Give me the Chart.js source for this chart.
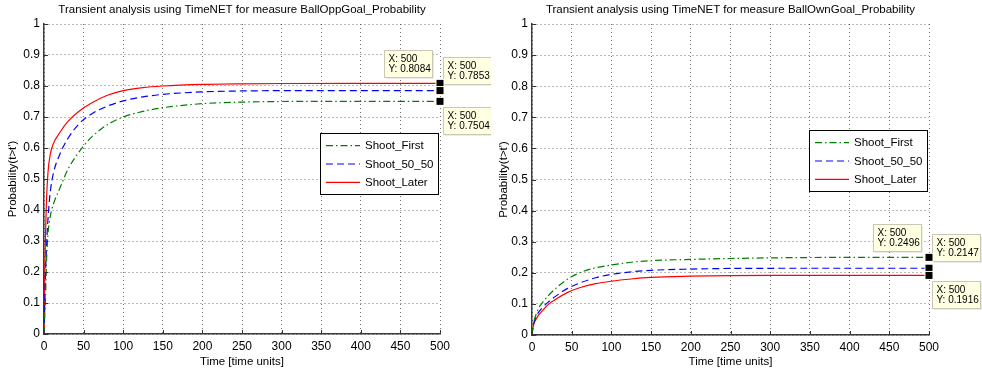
<!DOCTYPE html>
<html>
<head>
<meta charset="utf-8">
<script src="https://cdn.jsdelivr.net/npm/chart.js@4/dist/chart.umd.min.js"></script>
<style>
  html, body { margin: 0; padding: 0; background: #ffffff; }
  #wrap { display: flex; width: 982px; height: 372px; }
  .cell { position: relative; width: 491px; height: 372px; }
  canvas { display: block; }
</style>
</head>
<body>
<div id="wrap">
  <div class="cell"><canvas id="oppGoal" width="491" height="372"></canvas></div>
  <div class="cell"><canvas id="ownGoal" width="491" height="372"></canvas></div>
</div>
<script>
// Sample instants of the transient analysis (time units)
const timeUnits = [0, 1, 2, 3, 5, 8, 12, 20, 30, 45, 60, 80, 100, 125, 150, 200, 250, 300, 400, 500];

const seriesNames = ['Shoot_First', 'Shoot_50_50', 'Shoot_Later'];

// Measure BallOppGoal_Probability
const oppShootFirst = [0, 0.06, 0.12, 0.22, 0.32, 0.38, 0.42, 0.47, 0.53, 0.59, 0.635, 0.675, 0.70, 0.718, 0.73, 0.743, 0.748, 0.75, 0.7504, 0.7504];
const oppShoot5050  = [0, 0.10, 0.20, 0.27, 0.37, 0.46, 0.52, 0.58, 0.63, 0.68, 0.71, 0.735, 0.752, 0.765, 0.773, 0.781, 0.784, 0.785, 0.7853, 0.7853];
const oppShootLater = [0, 0.20, 0.33, 0.42, 0.52, 0.58, 0.615, 0.65, 0.685, 0.72, 0.745, 0.77, 0.785, 0.795, 0.80, 0.805, 0.807, 0.808, 0.8084, 0.8084];

// Measure BallOwnGoal_Probability
const ownShootFirst = [0, 0.025, 0.04, 0.05, 0.065, 0.085, 0.10, 0.125, 0.15, 0.18, 0.20, 0.216, 0.225, 0.234, 0.239, 0.243, 0.246, 0.248, 0.2496, 0.2496];
const ownShoot5050  = [0, 0.02, 0.035, 0.045, 0.057, 0.072, 0.085, 0.105, 0.125, 0.15, 0.167, 0.184, 0.195, 0.203, 0.208, 0.212, 0.214, 0.2145, 0.2147, 0.2147];
const ownShootLater = [0, 0.02, 0.032, 0.04, 0.05, 0.063, 0.075, 0.097, 0.115, 0.137, 0.152, 0.165, 0.173, 0.18, 0.185, 0.189, 0.191, 0.1915, 0.1916, 0.1916];

const xTickLabels = ['0', '50', '100', '150', '200', '250', '300', '350', '400', '450', '500'];
const yTickLabels = ['0', '0.1', '0.2', '0.3', '0.4', '0.5', '0.6', '0.7', '0.8', '0.9', '1'];

const panelTitles = [
  'Transient analysis using TimeNET for measure BallOppGoal_Probability',
  'Transient analysis using TimeNET for measure BallOwnGoal_Probability'
];
const xAxisTitle = 'Time [time units]';
const yAxisTitle = "Probability(t>t')";

const FONT = '"Liberation Sans", Arial, Helvetica, sans-serif';
Chart.defaults.font.family = FONT;
Chart.defaults.color = '#000000';

const seriesStyles = [
  { borderColor: '#008000', borderDash: [7, 3, 1.5, 3] },
  { borderColor: '#0000ff', borderDash: [7, 4] },
  { borderColor: '#ff0000', borderDash: [] }
];

const toPoints = (values) => values.map((v, i) => ({ x: timeUnits[i], y: v }));

// Title centred over the plotting area
const panelTitle = {
  id: 'panelTitle',
  afterDraw(chart, args, opts) {
    const { ctx, chartArea } = chart;
    ctx.save();
    ctx.font = '11.5px ' + FONT;
    ctx.fillStyle = '#000';
    ctx.textAlign = 'center';
    ctx.textBaseline = 'middle';
    ctx.fillText(opts.text, (chartArea.left + chartArea.right) / 2, 10);
    ctx.restore();
  }
};

// Short inward tick marks on the left and bottom axes
const innerTicks = {
  id: 'innerTicks',
  afterDatasetsDraw(chart) {
    const { ctx, chartArea, scales } = chart;
    ctx.save();
    ctx.strokeStyle = '#333';
    ctx.lineWidth = 1;
    ctx.setLineDash([]);
    ctx.beginPath();
    scales.x.ticks.forEach(t => {
      const px = Math.round(scales.x.getPixelForValue(t.value)) + 0.5;
      ctx.moveTo(px, chartArea.bottom);
      ctx.lineTo(px, chartArea.bottom - 4);
    });
    scales.y.ticks.forEach(t => {
      const py = Math.round(scales.y.getPixelForValue(t.value)) + 0.5;
      ctx.moveTo(chartArea.left, py);
      ctx.lineTo(chartArea.left + 4, py);
    });
    ctx.stroke();
    ctx.restore();
  }
};

// Boxed legend inside the plotting area
const boxedLegend = {
  id: 'boxedLegend',
  afterDatasetsDraw(chart, args, opts) {
    const { ctx, chartArea } = chart;
    const w = 118, h = 61, rowH = 18.3;
    const right = chartArea.right - 2;
    const left = right - w;
    const top = chartArea.top + opts.offsetTop;
    ctx.save();
    ctx.fillStyle = '#ffffff';
    ctx.fillRect(left, top, w, h);
    ctx.strokeStyle = '#000';
    ctx.lineWidth = 1;
    ctx.setLineDash([]);
    ctx.strokeRect(Math.round(left) + 0.5, Math.round(top) + 0.5, w, h);
    ctx.font = '11.5px ' + FONT;
    ctx.textBaseline = 'middle';
    ctx.textAlign = 'left';
    chart.data.datasets.forEach((ds, i) => {
      const y = top + 12.7 + i * rowH;
      ctx.strokeStyle = ds.borderColor;
      ctx.lineWidth = ds.borderWidth;
      ctx.setLineDash(ds.borderDash || []);
      ctx.beginPath();
      ctx.moveTo(left + 6, y);
      ctx.lineTo(left + 40, y);
      ctx.stroke();
      ctx.fillStyle = '#000';
      ctx.fillText(ds.label, left + 45, y + 0.5);
    });
    ctx.restore();
  }
};

// Data cursors on the final sample of each series
const dataTips = {
  id: 'dataTips',
  afterDraw(chart) {
    const { ctx } = chart;
    const ends = chart.data.datasets.map((ds, i) => {
      const meta = chart.getDatasetMeta(i);
      const el = meta.data[meta.data.length - 1];
      const d = ds.data[ds.data.length - 1];
      return { px: el.x, py: el.y, xv: d.x, yv: d.y };
    }).sort((a, b) => a.py - b.py);
    const w = 48, h = 27;
    const places = ['tl', 'tr', 'br'];
    ctx.save();
    ends.forEach((e, k) => {
      let bx, by;
      if (places[k] === 'tl') { bx = e.px - 8 - w; by = e.py - 6 - h; }
      else if (places[k] === 'tr') { bx = e.px + 3; by = e.py - 7 - h; }
      else { bx = e.px + 3; by = e.py + 6; }
      bx = Math.round(bx) + 0.5; by = Math.round(by) + 0.5;
      ctx.fillStyle = 'rgba(0,0,0,0.08)';
      ctx.fillRect(bx + 1.5, by + 1.5, w, h);
      ctx.fillStyle = '#ffffe1';
      ctx.fillRect(bx, by, w, h);
      ctx.strokeStyle = '#c9c7b5';
      ctx.lineWidth = 1;
      ctx.setLineDash([]);
      ctx.strokeRect(bx, by, w, h);
      ctx.fillStyle = '#000';
      ctx.font = '10px ' + FONT;
      ctx.textAlign = 'left';
      ctx.textBaseline = 'middle';
      ctx.fillText('X: ' + e.xv, bx + 4, by + 8.5);
      ctx.fillText('Y: ' + e.yv.toFixed(4), bx + 4, by + 19);
    });
    ends.forEach(e => {
      ctx.fillStyle = '#fffff0';
      ctx.fillRect(e.px - 4.5, e.py - 4.5, 9, 9);
      ctx.fillStyle = '#000';
      ctx.fillRect(e.px - 3.5, e.py - 3.5, 7, 7);
    });
    ctx.restore();
  }
};

function buildChart(canvasId, title, series, layoutCfg) {
  const datasets = series.map((values, i) => ({
    label: seriesNames[i],
    data: toPoints(values),
    borderColor: seriesStyles[i].borderColor,
    borderDash: seriesStyles[i].borderDash,
    borderWidth: 1.2,
    pointRadius: 0,
    cubicInterpolationMode: 'monotone',
    fill: false
  }));
  return new Chart(document.getElementById(canvasId), {
    type: 'line',
    data: { datasets },
    plugins: [panelTitle, innerTicks, boxedLegend, dataTips],
    options: {
      responsive: false,
      animation: false,
      devicePixelRatio: 1,
      layout: { padding: { left: 0, right: layoutCfg.padRight, top: 24, bottom: 0 } },
      plugins: {
        legend: { display: false },
        tooltip: { enabled: false },
        panelTitle: { text: title },
        boxedLegend: { offsetTop: layoutCfg.legendTop }
      },
      scales: {
        x: {
          type: 'linear',
          min: 0, max: 500,
          afterFit: s => { s.height = layoutCfg.xHeight; },
          afterBuildTicks: s => { s.ticks = xTickLabels.map(l => ({ value: Number(l) })); },
          ticks: {
            autoSkip: false,
            maxRotation: 0,
            padding: 5,
            font: { size: 12 },
            callback: (v, i) => xTickLabels[i]
          },
          grid: { color: 'rgba(0,0,0,0.55)', lineWidth: 1, drawTicks: false },
          border: { display: true, color: '#3a3a3a', width: 1.5, dash: [1, 3] },
          title: { display: true, text: xAxisTitle, font: { size: 11.5 }, padding: { top: 4, bottom: 3 } }
        },
        y: {
          type: 'linear',
          min: 0, max: 1,
          afterFit: s => { s.width = layoutCfg.yWidth; },
          afterBuildTicks: s => { s.ticks = yTickLabels.map(l => ({ value: Number(l) })); },
          ticks: {
            autoSkip: false,
            padding: 4,
            font: { size: 12 },
            callback: (v, i) => yTickLabels[i]
          },
          grid: { color: 'rgba(0,0,0,0.55)', lineWidth: 1, drawTicks: false },
          border: { display: true, color: '#3a3a3a', width: 1.5, dash: [1, 3] },
          title: { display: true, text: yAxisTitle, font: { size: 11.5 }, padding: { top: 6, bottom: 2 } }
        }
      }
    }
  });
}

buildChart('oppGoal', panelTitles[0], [oppShootFirst, oppShoot5050, oppShootLater],
  { padRight: 51, yWidth: 44, xHeight: 38, legendTop: 109 });
buildChart('ownGoal', panelTitles[1], [ownShootFirst, ownShoot5050, ownShootLater],
  { padRight: 53, yWidth: 41, xHeight: 37, legendTop: 106 });
</script>
</body>
</html>
